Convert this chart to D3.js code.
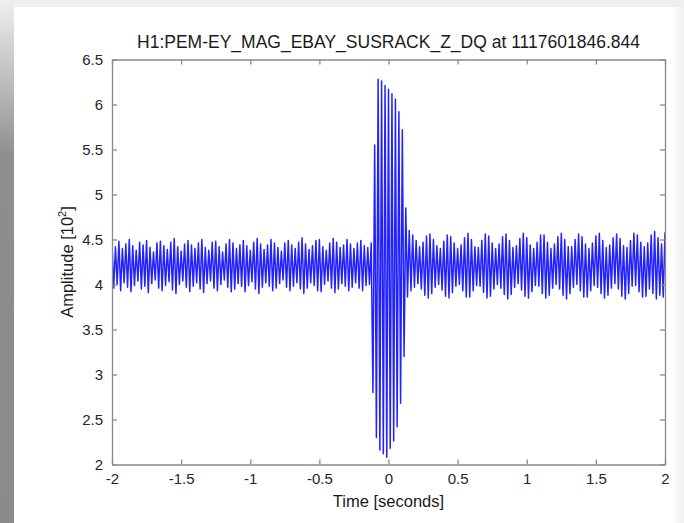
<!DOCTYPE html>
<html>
<head>
<meta charset="utf-8">
<script src="https://cdn.jsdelivr.net/npm/d3@7"></script>
<style>
  html, body { margin: 0; padding: 0; background: #fff; }
  svg { display: block; font-family: "Liberation Sans", Arial, Helvetica, sans-serif; }
</style>
</head>
<body>
<svg id="chart" width="684" height="523"></svg>
<script>
// Magnetometer trace: alternating peak / trough samples every half step.
const tStart = -2;
const tStep = 0.025;

// Peak samples at t = tStart + i * tStep (i = 0..160)
const peaks = [
  4.46,4.42,4.48,4.40,4.45,4.50,4.43,4.38,4.47,4.44,
  4.49,4.41,4.36,4.46,4.48,4.43,4.39,4.47,4.51,4.42,
  4.37,4.45,4.49,4.44,4.40,4.46,4.50,4.41,4.38,4.47,
  4.48,4.42,4.36,4.45,4.50,4.46,4.40,4.44,4.49,4.43,
  4.38,4.47,4.51,4.45,4.39,4.44,4.50,4.46,4.41,4.37,
  4.46,4.49,4.44,4.40,4.47,4.52,4.45,4.39,4.43,4.49,
  4.50,4.42,4.38,4.46,4.51,4.47,4.41,4.44,4.50,4.45,
  4.40,4.46,4.49,4.43,4.41,
  // burst
  4.46,5.55,6.28,6.26,6.21,6.17,6.12,6.06,5.92,5.72,4.85,
  // after the burst
  4.60,4.55,4.49,4.42,4.47,4.54,4.56,4.50,4.43,4.40,
  4.48,4.55,4.53,4.46,4.40,4.44,4.52,4.57,4.50,4.42,
  4.41,4.49,4.56,4.54,4.46,4.40,4.45,4.53,4.56,4.49,
  4.41,4.43,4.51,4.57,4.52,4.44,4.40,4.47,4.55,4.55,
  4.47,4.40,4.45,4.53,4.57,4.50,4.42,4.42,4.50,4.56,
  4.53,4.45,4.40,4.46,4.54,4.57,4.49,4.41,4.44,4.52,
  4.56,4.51,4.43,4.41,4.49,4.57,4.55,4.47,4.42,4.46,
  4.55,4.59,4.52,4.45,4.58
];

// Trough samples at t = tStart + (i + 0.5) * tStep (i = 0..159)
const troughs = [
  3.96,4.00,3.93,4.02,3.97,3.92,3.99,4.04,3.95,3.98,
  3.91,4.01,4.05,3.96,3.93,3.99,4.03,3.94,3.90,4.00,
  4.04,3.97,3.92,3.98,4.02,3.95,3.91,4.01,4.04,3.96,
  3.93,4.00,4.05,3.97,3.92,3.95,4.01,3.98,3.92,3.99,
  4.03,3.95,3.90,3.97,4.02,3.98,3.93,3.96,4.01,4.05,
  3.97,3.93,3.98,4.02,3.95,3.90,3.96,4.02,3.99,3.93,
  3.92,4.00,4.04,3.96,3.91,3.95,4.01,3.98,3.93,3.97,
  4.02,3.96,3.93,3.99,4.00,
  // burst
  2.80,2.30,2.16,2.12,2.08,2.18,2.26,2.42,2.68,3.20,3.86,
  // after the burst
  3.93,3.97,4.01,3.95,3.88,3.85,3.90,3.97,4.00,3.94,
  3.87,3.85,3.91,3.98,4.00,3.93,3.86,3.86,3.93,3.99,
  3.98,3.91,3.85,3.87,3.95,4.00,3.96,3.89,3.84,3.89,
  3.97,4.01,3.94,3.87,3.85,3.92,3.99,3.98,3.90,3.85,
  3.88,3.96,4.00,3.95,3.88,3.84,3.90,3.97,4.00,3.93,
  3.86,3.86,3.93,3.99,3.97,3.90,3.85,3.88,3.96,4.01,
  3.95,3.87,3.84,3.90,3.98,3.99,3.92,3.86,3.87,3.95,
  3.90,3.84,3.88,3.86
];

const xTicks = [-2, -1.5, -1, -0.5, 0, 0.5, 1, 1.5, 2];
const xTickLabels = ["-2", "-1.5", "-1", "-0.5", "0", "0.5", "1", "1.5", "2"];
const yTicks = [2, 2.5, 3, 3.5, 4, 4.5, 5, 5.5, 6, 6.5];
const yTickLabels = ["2", "2.5", "3", "3.5", "4", "4.5", "5", "5.5", "6", "6.5"];

const titleText = "H1:PEM-EY_MAG_EBAY_SUSRACK_Z_DQ at 1117601846.844";
const xLabelText = "Time [seconds]";

const svg = d3.select("#chart");
const W = 684, H = 523;

// Window frame around the figure
const defs = svg.append("defs");
const gl = defs.append("linearGradient").attr("id", "leftEdge")
  .attr("x1", 0).attr("y1", 0).attr("x2", 0).attr("y2", 1);
gl.append("stop").attr("offset", "0").attr("stop-color", "#efefef");
gl.append("stop").attr("offset", "0.3").attr("stop-color", "#8e8e8e");
gl.append("stop").attr("offset", "1").attr("stop-color", "#8a8a8a");
const gr = defs.append("linearGradient").attr("id", "rightEdge")
  .attr("x1", 0).attr("y1", 0).attr("x2", 1).attr("y2", 0);
gr.append("stop").attr("offset", "0").attr("stop-color", "#ffffff");
gr.append("stop").attr("offset", "1").attr("stop-color", "#f1f1f1");

svg.append("rect").attr("x", 0).attr("y", 0).attr("width", W).attr("height", H).attr("fill", "#fff");
svg.append("rect").attr("x", 0).attr("y", 0).attr("width", W).attr("height", 7).attr("fill", "#efefef");
svg.append("rect").attr("x", 0).attr("y", 0).attr("width", 14).attr("height", H).attr("fill", "url(#leftEdge)");
svg.append("rect").attr("x", 671).attr("y", 7).attr("width", 13).attr("height", H - 7).attr("fill", "url(#rightEdge)");

// Plot area
const pLeft = 112, pRight = 665, pTop = 59.5, pBottom = 464.5;
const x = d3.scaleLinear().domain([-2, 2]).range([pLeft, pRight]);
const y = d3.scaleLinear().domain([2, 6.5]).range([pBottom, pTop]);

// Series points
const pts = [];
peaks.forEach((v, i) => {
  pts.push({ t: tStart + i * tStep, v });
  if (i < troughs.length) pts.push({ t: tStart + (i + 0.5) * tStep, v: troughs[i] });
});

defs.append("clipPath").attr("id", "plotClip")
  .append("rect").attr("x", pLeft).attr("y", pTop).attr("width", pRight - pLeft).attr("height", pBottom - pTop);

const line = d3.line().x(d => x(d.t)).y(d => y(d.v));
svg.append("path")
  .datum(pts)
  .attr("clip-path", "url(#plotClip)")
  .attr("fill", "none")
  .attr("stroke", "#2222ff")
  .attr("stroke-width", 1.5)
  .attr("stroke-linejoin", "round")
  .attr("d", line);

// Axes: box with inward ticks
const axisColor = "#8a8a8a";
const fmtX = d => xTickLabels[xTicks.indexOf(d)];
const fmtY = d => yTickLabels[yTicks.indexOf(d)];

function styleAxis(g, showLabels) {
  g.select(".domain").attr("stroke", axisColor).attr("stroke-width", 1.3);
  g.selectAll(".tick line").attr("stroke", axisColor).attr("stroke-width", 1.3);
  g.selectAll(".tick text")
    .attr("fill", "#262626")
    .style("font-size", "15px")
    .style("font-family", "'Liberation Sans', Arial, sans-serif")
    .attr("display", showLabels ? null : "none");
}

const gx = svg.append("g").attr("transform", `translate(0,${pBottom})`)
  .call(d3.axisBottom(x).tickValues(xTicks).tickFormat(fmtX).tickSizeInner(-5).tickSizeOuter(0).tickPadding(9));
styleAxis(gx, true);
const gxt = svg.append("g").attr("transform", `translate(0,${pTop})`)
  .call(d3.axisTop(x).tickValues(xTicks).tickFormat(fmtX).tickSizeInner(-5).tickSizeOuter(0));
styleAxis(gxt, false);
const gy = svg.append("g").attr("transform", `translate(${pLeft},0)`)
  .call(d3.axisLeft(y).tickValues(yTicks).tickFormat(fmtY).tickSizeInner(-5).tickSizeOuter(0).tickPadding(9));
styleAxis(gy, true);
const gyr = svg.append("g").attr("transform", `translate(${pRight},0)`)
  .call(d3.axisRight(y).tickValues(yTicks).tickFormat(fmtY).tickSizeInner(-5).tickSizeOuter(0));
styleAxis(gyr, false);

// Title and axis labels
svg.append("text")
  .attr("x", (pLeft + pRight) / 2).attr("y", 48)
  .attr("text-anchor", "middle")
  .attr("fill", "#1a1a1a")
  .style("font-size", "17.5px")
  .text(titleText);

svg.append("text")
  .attr("x", (pLeft + pRight) / 2).attr("y", 507)
  .attr("text-anchor", "middle")
  .attr("fill", "#1a1a1a")
  .style("font-size", "16.5px")
  .text(xLabelText);

const yl = svg.append("text")
  .attr("transform", `translate(73,${(pTop + pBottom) / 2}) rotate(-90)`)
  .attr("text-anchor", "middle")
  .attr("fill", "#1a1a1a")
  .style("font-size", "16.5px");
yl.append("tspan").text("Amplitude [10");
yl.append("tspan").attr("dy", -7).style("font-size", "11px").text("2");
yl.append("tspan").attr("dy", 7).text("]");
</script>
</body>
</html>
